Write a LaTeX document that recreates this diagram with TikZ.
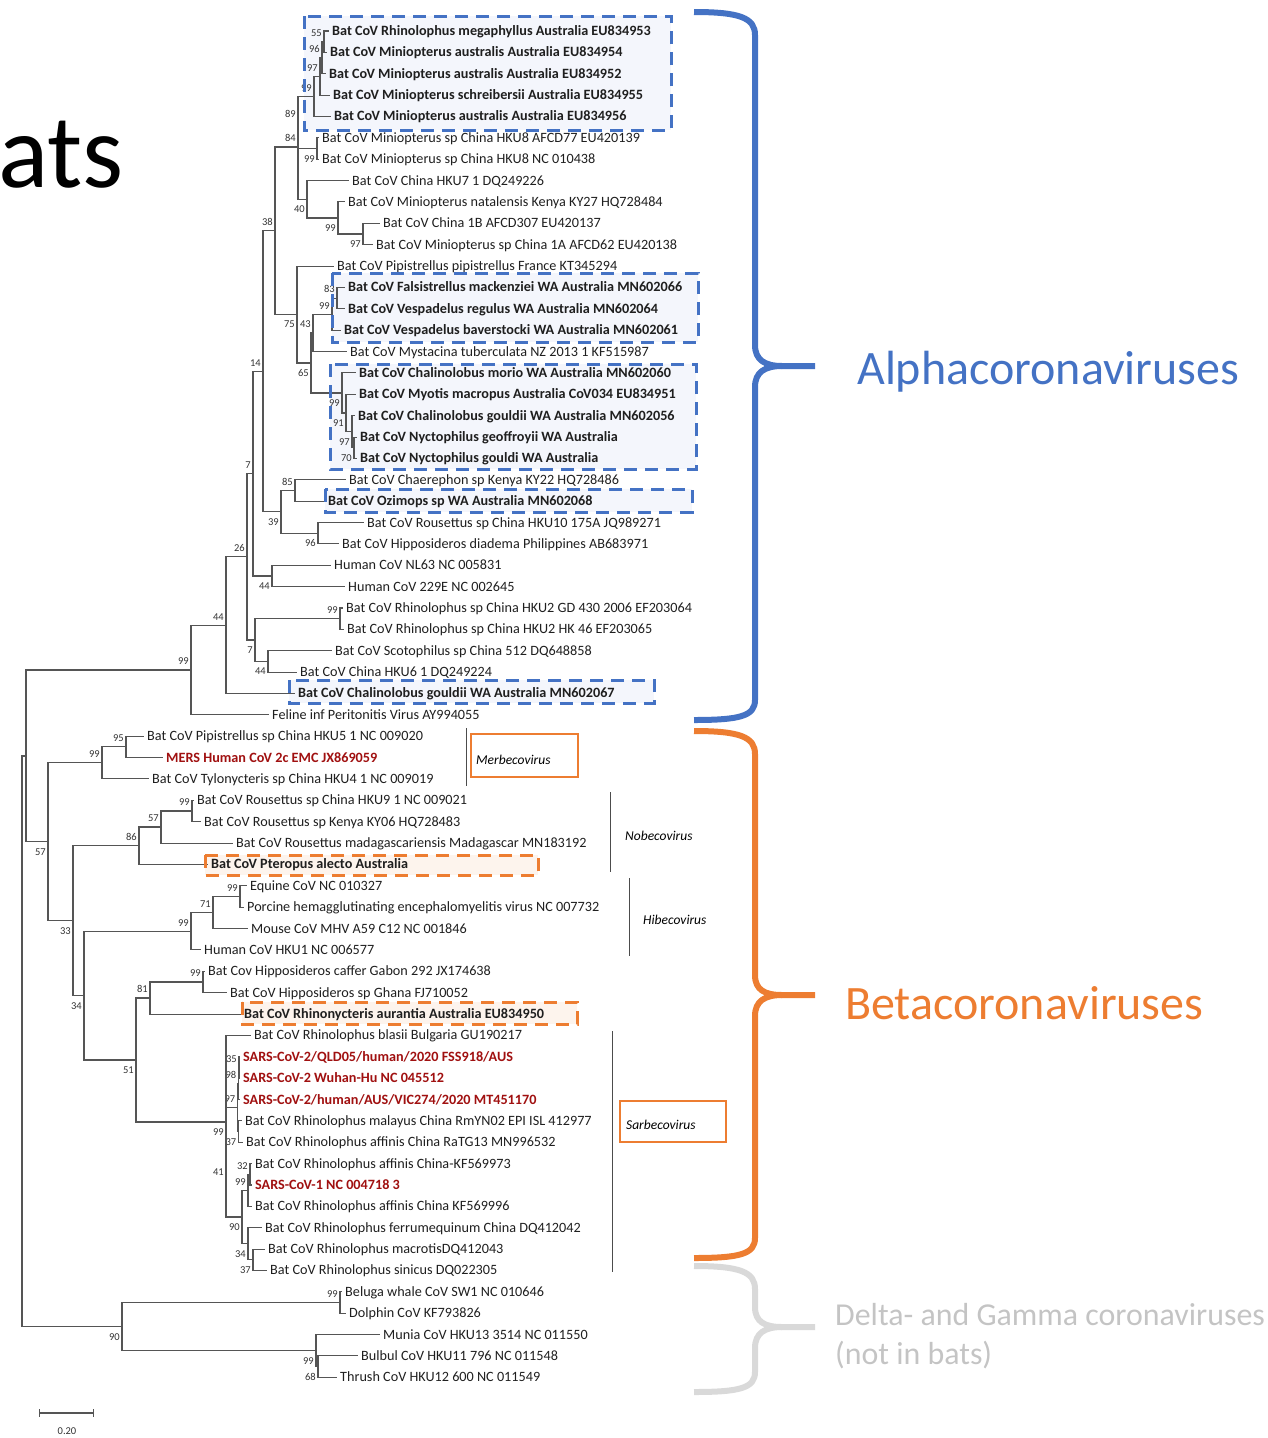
\documentclass[tikz,border=0pt]{standalone}
\usepackage{fontspec}
\setmainfont{Carlito}
\usetikzlibrary{calc,%
                arrows}

\definecolor{alphablue}{RGB}{68,114,196}
\definecolor{betaorange}{RGB}{237,125,49}
\definecolor{deltagray}{RGB}{217,217,217}
\definecolor{deltatext}{RGB}{196,196,196}
\definecolor{sarsred}{RGB}{160,16,16}
\definecolor{treegray}{RGB}{85,85,85}
\definecolor{bluefill}{RGB}{244,246,252}
\definecolor{orangefill}{RGB}{253,244,237}

\tikzset{
  branch/.style={draw=treegray, line width=1.05pt},
  lf/.style={font=\fontsize{14.2}{16}\selectfont, inner sep=0pt, text=black!88},
  lfb/.style={lf, font=\fontsize{14.2}{16}\selectfont\bfseries},
  lfr/.style={lfb, text=sarsred},
  bs/.style={font=\fontsize{10.5}{12}\selectfont, inner sep=0pt, text=black!80},
  bsa/.style={anchor=south east, xshift=-2pt, yshift=5pt},
  bsb/.style={anchor=north east, xshift=-2pt, yshift=-6.5pt},
  hibox/.style={line width=3pt, dash pattern=on 13pt off 8pt},
  bluebox/.style={hibox, draw=alphablue},
  orangebox/.style={hibox, draw=betaorange},
  brace/.style={line width=6pt, line join=round},
  genus/.style={font=\fontsize{13.5}{15}\selectfont\itshape, inner sep=0pt, anchor=base west},
  genusline/.style={draw=black!70, line width=1pt},
  group/.style={font=\fontsize{48}{52}\selectfont, inner sep=0pt, anchor=base west},
}

% leaf: name, row, text x, style, text
\newcommand{\leaf}[5]{%
  \coordinate (#1) at ({#3-3.5},{31+21.37*#2});
  \node[#4, anchor=base west] (#1lab) at (#3,{31+21.37*#2+4.5}) {#5};}
% inner node: name, x, y, bootstrap, a/b
\newcommand{\inode}[5]{%
  \coordinate (#1) at (#2,#3);
  \node[bs, bs#5] (#1bs) at (#1) {#4};}
\newcommand{\clade}[3]{\draw[branch] (#2) -| (#1) |- (#3);}

\begin{document}
\begin{tikzpicture}[x=1pt, y=-1pt]
\useasboundingbox (0,0) rectangle (1267,1438);

% highlight boxes (fill first)
\coordinate (bx1a) at (304,16);   \coordinate (bx1b) at (671,130);
\coordinate (bx2a) at (332,273);  \coordinate (bx2b) at (698,342);
\coordinate (bx3a) at (330,364);  \coordinate (bx3b) at (696,469);
\coordinate (bx4a) at (325,489);  \coordinate (bx4b) at (692,512);
\coordinate (bx5a) at (289,680);  \coordinate (bx5b) at (654,703);
\coordinate (bx6a) at (205,855);  \coordinate (bx6b) at (538,875);
\coordinate (bx7a) at (242,1002); \coordinate (bx7b) at (577,1024);
\foreach \b in {1,...,5} \fill[bluefill] (bx\b a) rectangle (bx\b b);
\foreach \b in {6,7} \fill[orangefill] (bx\b a) rectangle (bx\b b);

\node[font=\fontsize{105}{106}\selectfont, inner sep=0pt, anchor=base west] (bats) at (-2,187) {ats};

% leaves
\leaf{l0}{0}{332}{lfb}{Bat CoV Rhinolophus megaphyllus Australia EU834953}
\leaf{l1}{1}{330}{lfb}{Bat CoV Miniopterus australis Australia EU834954}
\leaf{l2}{2}{329}{lfb}{Bat CoV Miniopterus australis Australia EU834952}
\leaf{l3}{3}{333}{lfb}{Bat CoV Miniopterus schreibersii Australia EU834955}
\leaf{l4}{4}{334}{lfb}{Bat CoV Miniopterus australis Australia EU834956}
\leaf{l5}{5}{322}{lf}{Bat CoV Miniopterus sp China HKU8 AFCD77 EU420139}
\leaf{l6}{6}{322}{lf}{Bat CoV Miniopterus sp China HKU8 NC 010438}
\leaf{l7}{7}{352}{lf}{Bat CoV China HKU7 1 DQ249226}
\leaf{l8}{8}{348}{lf}{Bat CoV Miniopterus natalensis Kenya KY27 HQ728484}
\leaf{l9}{9}{383}{lf}{Bat CoV China 1B AFCD307 EU420137}
\leaf{l10}{10}{376}{lf}{Bat CoV Miniopterus sp China 1A AFCD62 EU420138}
\leaf{l11}{11}{337}{lf}{Bat CoV Pipistrellus pipistrellus France KT345294}
\leaf{l12}{12}{348}{lfb}{Bat CoV Falsistrellus mackenziei WA Australia MN602066}
\leaf{l13}{13}{348}{lfb}{Bat CoV Vespadelus regulus WA Australia MN602064}
\leaf{l14}{14}{344}{lfb}{Bat CoV Vespadelus baverstocki WA Australia MN602061}
\leaf{l15}{15}{350}{lf}{Bat CoV Mystacina tuberculata NZ 2013 1 KF515987}
\leaf{l16}{16}{359}{lfb}{Bat CoV Chalinolobus morio WA Australia MN602060}
\leaf{l17}{17}{359}{lfb}{Bat CoV Myotis macropus Australia CoV034 EU834951}
\leaf{l18}{18}{358}{lfb}{Bat CoV Chalinolobus gouldii WA Australia MN602056}
\leaf{l19}{19}{360}{lfb}{Bat CoV Nyctophilus geoffroyii WA Australia}
\leaf{l20}{20}{360}{lfb}{Bat CoV Nyctophilus gouldi WA Australia}
\leaf{l21}{21}{349}{lf}{Bat CoV Chaerephon sp Kenya KY22 HQ728486}
\leaf{l22}{22}{328}{lfb}{Bat CoV Ozimops sp WA Australia MN602068}
\leaf{l23}{23}{367}{lf}{Bat CoV Rousettus sp China HKU10 175A JQ989271}
\leaf{l24}{24}{342}{lf}{Bat CoV Hipposideros diadema Philippines AB683971}
\leaf{l25}{25}{334}{lf}{Human CoV NL63 NC 005831}
\leaf{l26}{26}{348}{lf}{Human CoV 229E NC 002645}
\leaf{l27}{27}{346}{lf}{Bat CoV Rhinolophus sp China HKU2 GD 430 2006 EF203064}
\leaf{l28}{28}{347}{lf}{Bat CoV Rhinolophus sp China HKU2 HK 46 EF203065}
\leaf{l29}{29}{335}{lf}{Bat CoV Scotophilus sp China 512 DQ648858}
\leaf{l30}{30}{300}{lf}{Bat CoV China HKU6 1 DQ249224}
\leaf{l31}{31}{298}{lfb}{Bat CoV Chalinolobus gouldii WA Australia MN602067}
\leaf{l32}{32}{272}{lf}{Feline inf Peritonitis Virus AY994055}
\leaf{l33}{33}{147}{lf}{Bat CoV Pipistrellus sp China HKU5 1 NC 009020}
\leaf{l34}{34}{166}{lfr}{MERS Human CoV 2c EMC JX869059}
\leaf{l35}{35}{152}{lf}{Bat CoV Tylonycteris sp China HKU4 1 NC 009019}
\leaf{l36}{36}{197}{lf}{Bat CoV Rousettus sp China HKU9 1 NC 009021}
\leaf{l37}{37}{204}{lf}{Bat CoV Rousettus sp Kenya KY06 HQ728483}
\leaf{l38}{38}{236}{lf}{Bat CoV Rousettus madagascariensis Madagascar MN183192}
\leaf{l39}{39}{211}{lfb}{Bat CoV Pteropus alecto Australia}
\leaf{l40}{40}{250}{lf}{Equine CoV NC 010327}
\leaf{l41}{41}{247}{lf}{Porcine hemagglutinating encephalomyelitis virus NC 007732}
\leaf{l42}{42}{251}{lf}{Mouse CoV MHV A59 C12 NC 001846}
\leaf{l43}{43}{204}{lf}{Human CoV HKU1 NC 006577}
\leaf{l44}{44}{208}{lf}{Bat Cov Hipposideros caffer Gabon 292 JX174638}
\leaf{l45}{45}{230}{lf}{Bat CoV Hipposideros sp Ghana FJ710052}
\leaf{l46}{46}{244}{lfb}{Bat CoV Rhinonycteris aurantia Australia EU834950}
\leaf{l47}{47}{254}{lf}{Bat CoV Rhinolophus blasii Bulgaria GU190217}
\leaf{l48}{48}{243}{lfr}{SARS-CoV-2/QLD05/human/2020 FSS918/AUS}
\leaf{l49}{49}{243}{lfr}{SARS-CoV-2 Wuhan-Hu NC 045512}
\leaf{l50}{50}{243}{lfr}{SARS-CoV-2/human/AUS/VIC274/2020 MT451170}
\leaf{l51}{51}{245}{lf}{Bat CoV Rhinolophus malayus China RmYN02 EPI ISL 412977}
\leaf{l52}{52}{246}{lf}{Bat CoV Rhinolophus affinis China RaTG13 MN996532}
\leaf{l53}{53}{255}{lf}{Bat CoV Rhinolophus affinis China-KF569973}
\leaf{l54}{54}{255}{lfr}{SARS-CoV-1 NC 004718 3}
\leaf{l55}{55}{255}{lf}{Bat CoV Rhinolophus affinis China KF569996}
\leaf{l56}{56}{265}{lf}{Bat CoV Rhinolophus ferrumequinum China DQ412042}
\leaf{l57}{57}{268}{lf}{Bat CoV Rhinolophus macrotisDQ412043}
\leaf{l58}{58}{270}{lf}{Bat CoV Rhinolophus sinicus DQ022305}
\leaf{l59}{59}{345}{lf}{Beluga whale CoV SW1 NC 010646}
\leaf{l60}{60}{349}{lf}{Dolphin CoV KF793826}
\leaf{l61}{61}{383}{lf}{Munia CoV HKU13 3514 NC 011550}
\leaf{l62}{62}{361}{lf}{Bulbul CoV HKU11 796 NC 011548}
\leaf{l63}{63}{340}{lf}{Thrush CoV HKU12 600 NC 011549}

% inner nodes, alpha
\inode{n55}{324}{41.7}{55}{a}
\inode{n96}{322}{57.7}{96}{a}
\inode{n97}{320}{76.4}{97}{a}
\inode{n99a}{314}{96.5}{99}{a}
\inode{n99k}{317}{148.6}{99}{b}
\inode{n89}{298}{122.5}{89}{a}
\inode{n97c}{363}{234}{97}{b}
\inode{n99d}{338}{218}{99}{b}
\inode{n40}{307}{199.3}{40}{b}
\inode{n84}{298}{147}{84}{a}
\inode{n83}{337}{298.1}{83}{a}
\inode{n99c}{332}{314.2}{99}{a}
\inode{n43}{313}{332.9}{43}{a}
\inode{n70}{354}{447.7}{70}{b}
\inode{n97b}{352}{431.7}{97}{b}
\inode{n91}{346}{413}{91}{b}
\inode{n99b}{342}{393}{99}{b}
\inode{n65}{311}{363}{65}{b}
\inode{n75}{297}{314.5}{75}{b}
\inode{n38}{275}{230.8}{38}{a}
\inode{n85}{295}{490.5}{85}{a}
\inode{n96c}{318}{533.2}{96}{b}
\inode{n39}{281}{511.8}{39}{b}
\inode{n14}{263}{371.3}{14}{a}
\inode{n44h}{272}{576}{44}{b}
\inode{n7a}{253}{473.6}{7}{a}
\inode{n99k2}{340}{618.7}{99}{a}
\inode{n44c}{268}{661.4}{44}{b}
\inode{n7b}{255}{640}{7}{b}
\inode{n26}{247}{556.8}{26}{a}
\inode{n44}{226}{625.2}{44}{a}
\inode{n99al}{191}{670}{99}{a}
% beta
\inode{n95}{126}{746.9}{95}{a}
\inode{n99m}{102}{762.9}{99}{a}
\inode{n99h9}{192}{811}{99}{a}
\inode{n57b}{161}{827}{57}{a}
\inode{n86}{139}{845.7}{86}{a}
\inode{n99e}{240}{896.5}{99}{a}
\inode{n71}{213}{912.5}{71}{a}
\inode{n99hb}{191}{931.2}{99}{a}
\inode{n99hp}{203}{982}{99}{a}
\inode{n81}{150}{998}{81}{a}
\inode{n35}{239}{1067.5}{35}{a}
\inode{n98}{238.5}{1083.5}{98}{a}
\inode{n37}{238.5}{1131.6}{37}{b}
\inode{n97s}{237.5}{1107.5}{97}{a}
\inode{n32}{250}{1174.3}{32}{a}
\inode{n99s1}{248}{1190.3}{99}{a}
\inode{n37s}{253}{1259.8}{37}{b}
\inode{n34s}{248}{1243.8}{34}{b}
\inode{n90s}{242}{1217}{90}{b}
\inode{n41}{226}{1162}{41}{b}
\inode{n99sar}{226}{1122}{99}{b}
\inode{n51}{136}{1060}{51}{b}
\inode{n34}{84}{995.6}{34}{b}
\inode{n33}{73}{920.6}{33}{b}
\inode{n57be}{48}{841.8}{57}{b}
% delta / gamma
\inode{n99bl}{340}{1302.5}{99}{a}
\inode{n68}{318}{1366.6}{68}{b}
\inode{n99bd}{316}{1350.6}{99}{b}
\inode{n90}{122}{1326.5}{90}{b}
\coordinate (nab) at (26,756);
\coordinate (root) at (22,1041);

% branches
\clade{n55}{l0}{l1}
\clade{n96}{n55}{l2}
\clade{n97}{n96}{l3}
\clade{n99a}{n97}{l4}
\clade{n99k}{l5}{l6}
\clade{n89}{n99a}{n99k}
\clade{n97c}{l9}{l10}
\clade{n99d}{l8}{n97c}
\clade{n40}{l7}{n99d}
\clade{n84}{n89}{n40}
\clade{n83}{l12}{l13}
\clade{n99c}{n83}{l14}
\clade{n43}{n99c}{l15}
\clade{n70}{l19}{l20}
\clade{n97b}{l18}{n70}
\clade{n91}{l17}{n97b}
\clade{n99b}{l16}{n91}
\clade{n65}{n43}{n99b}
\clade{n75}{l11}{n65}
\clade{n38}{n84}{n75}
\clade{n85}{l21}{l22}
\clade{n96c}{l23}{l24}
\clade{n39}{n85}{n96c}
\clade{n14}{n38}{n39}
\clade{n44h}{l25}{l26}
\clade{n7a}{n14}{n44h}
\clade{n99k2}{l27}{l28}
\clade{n44c}{l29}{l30}
\clade{n7b}{n99k2}{n44c}
\clade{n26}{n7a}{n7b}
\clade{n44}{n26}{l31}
\clade{n99al}{n44}{l32}
\clade{n95}{l33}{l34}
\clade{n99m}{n95}{l35}
\clade{n99h9}{l36}{l37}
\clade{n57b}{n99h9}{l38}
\clade{n86}{n57b}{l39}
\clade{n99e}{l40}{l41}
\clade{n71}{n99e}{l42}
\clade{n99hb}{n71}{l43}
\clade{n99hp}{l44}{l45}
\clade{n81}{n99hp}{l46}
\clade{n35}{l48}{l49}
\clade{n98}{n35}{l50}
\clade{n37}{l51}{l52}
\clade{n97s}{n98}{n37}
\clade{n32}{l53}{l54}
\clade{n99s1}{n32}{l55}
\clade{n37s}{l57}{l58}
\clade{n34s}{l56}{n37s}
\clade{n90s}{n99s1}{n34s}
\clade{n41}{n97s}{n90s}
\clade{n99sar}{l47}{n41}
\clade{n51}{n81}{n99sar}
\clade{n34}{n99hb}{n51}
\clade{n33}{n86}{n34}
\clade{n57be}{n99m}{n33}
\clade{nab}{n99al}{n57be}
\clade{n99bl}{l59}{l60}
\clade{n68}{l62}{l63}
\clade{n99bd}{l61}{n68}
\clade{n90}{n99bl}{n99bd}
\clade{root}{nab}{n90}

% scale bar
\coordinate (sb0) at (39,1413);
\coordinate (sb1) at (94,1413);
\draw[branch, |-|] (sb0) -- (sb1);
\node[bs, anchor=base] (sblab) at (67,1434) {0.20};

% dashed borders on top
\foreach \b in {1,...,5} \draw[bluebox] (bx\b a) rectangle (bx\b b);
\foreach \b in {6,7} \draw[orangebox] (bx\b a) rectangle (bx\b b);

% genera
\draw[genusline] (466,728) -- (466,786);
\draw[betaorange, line width=2pt] (471,734) rectangle (578,777);
\node[genus] (merbe) at (476,764) {Merbecovirus};
\draw[genusline] (610,792) -- (610,872);
\node[genus] (nobe) at (625,840) {Nobecovirus};
\draw[genusline] (629,878) -- (629,956);
\node[genus] (hibe) at (643,924) {Hibecovirus};
\draw[genusline] (612,1031) -- (612,1272);
\draw[betaorange, line width=2pt] (620,1101) rectangle (726,1142);
\node[genus] (sarbe) at (626,1129) {Sarbecovirus};

% braces
\draw[brace, alphablue] (694,12) .. controls (740,12) and (755,18) .. (755,35) -- (755,345)
  .. controls (755,360) and (765,366) .. (782,366) -- (815,366);
\draw[brace, alphablue] (782,366) .. controls (765,366) and (755,372) .. (755,387) -- (755,700)
  .. controls (755,716) and (740,720) .. (694,720);
\draw[brace, betaorange] (694,731) .. controls (740,731) and (755,737) .. (755,754) -- (755,975)
  .. controls (755,990) and (765,995) .. (782,995) -- (815,995);
\draw[brace, betaorange] (782,995) .. controls (765,995) and (755,1001) .. (755,1016) -- (755,1238)
  .. controls (755,1254) and (740,1258) .. (694,1258);
\draw[brace, deltagray] (694,1266) .. controls (740,1266) and (755,1272) .. (755,1289) -- (755,1307)
  .. controls (755,1322) and (765,1327) .. (782,1327) -- (815,1327);
\draw[brace, deltagray] (782,1327) .. controls (765,1327) and (755,1333) .. (755,1348) -- (755,1372)
  .. controls (755,1388) and (740,1392) .. (694,1392);

\node[group, text=alphablue] (alpha) at (857,384) {Alphacoronaviruses};
\node[group, text=betaorange] (beta) at (845,1019) {Betacoronaviruses};
\node[group, font=\fontsize{31.9}{36}\selectfont, text=deltatext] (delta) at (835,1325) {Delta- and Gamma coronaviruses};
\node[group, font=\fontsize{31.9}{36}\selectfont, text=deltatext] (notbats) at (835,1364) {(not in bats)};
\end{tikzpicture}
\end{document}
